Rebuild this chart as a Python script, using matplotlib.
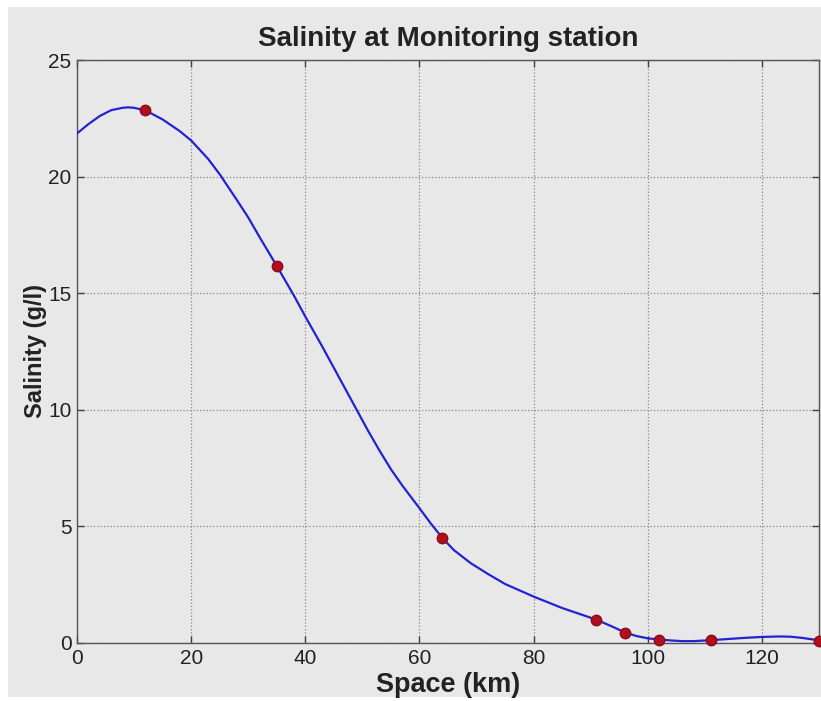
import matplotlib
matplotlib.use("Agg")
import matplotlib.pyplot as plt
from matplotlib.patches import Rectangle

# smooth curve (km, g/l)
curve_x = [0, 2, 4, 6, 8, 9, 10, 12, 15, 18, 20, 23, 25, 28, 30, 32, 35, 38, 40,
           43, 45, 47, 49, 51, 53, 55, 57, 60, 62, 64, 66, 69, 72, 75, 80, 85,
           88, 91, 94, 96, 98, 100, 102, 104, 106, 108, 111, 114, 117, 120, 123,
           125, 127, 129, 130]
curve_y = [21.85, 22.25, 22.6, 22.85, 22.95, 22.97, 22.95, 22.84, 22.45, 21.95,
           21.55, 20.75, 20.1, 19.0, 18.25, 17.4, 16.17, 14.9, 14.0,
           12.7, 11.8, 10.9, 10.0, 9.1, 8.25, 7.45, 6.75, 5.78, 5.12, 4.51,
           3.99, 3.42, 2.96, 2.53, 1.99, 1.5, 1.25, 1.0, 0.68, 0.45, 0.3, 0.2,
           0.15, 0.11, 0.08, 0.08, 0.12, 0.17, 0.22, 0.26, 0.28, 0.27, 0.22,
           0.15, 0.1]

# measured stations
station_x = [12, 35, 64, 91, 96, 102, 111, 130]
station_y = [22.84, 16.17, 4.51, 1.0, 0.45, 0.15, 0.12, 0.1]

xticks = [0, 20, 40, 60, 80, 100, 120]
yticks = [0, 5, 10, 15, 20, 25]

plt.rcParams['font.family'] = ['Liberation Sans', 'DejaVu Sans']
grey = '#e8e8e8'
txt = '#222222'

fig = plt.figure(figsize=(8.21, 7.01), dpi=100, facecolor='white')
fig.patches.append(Rectangle((8 / 821, 0.006), 1, 1 - 7 / 701 - 0.006,
                             transform=fig.transFigure, facecolor=grey,
                             edgecolor='none', zorder=-10))
ax = fig.add_axes([77 / 821, 58 / 701, (819 - 77) / 821, (643 - 60) / 701])
ax.set_facecolor(grey)

ax.plot(curve_x, curve_y, color='#2323d2', lw=1.6, zorder=3)
ax.plot(station_x, station_y, 'o', ms=7.5, color='#b0101e', mec='#8c0a18',
        zorder=4, clip_on=False)

ax.set_xlim(0, 130)
ax.set_ylim(0, 25)
ax.set_xticks(xticks)
ax.set_yticks(yticks)
ax.tick_params(direction='in', length=5, width=1, color='#404040',
               top=True, right=True, labelsize=15, labelcolor=txt, pad=4)
for s in ax.spines.values():
    s.set_color('#555555')
    s.set_linewidth(1)
ax.grid(True, linestyle=':', color='#888888', linewidth=0.9)

ax.set_title('Salinity at Monitoring station', fontsize=20, fontweight='bold',
             color=txt, pad=10)
ax.set_xlabel('Space (km)', fontsize=19.5, fontweight='bold', color=txt, labelpad=3)
ax.set_ylabel('Salinity (g/l)', fontsize=17, fontweight='bold', color=txt, labelpad=1)

fig.savefig('out.png', dpi=100, facecolor='white')
